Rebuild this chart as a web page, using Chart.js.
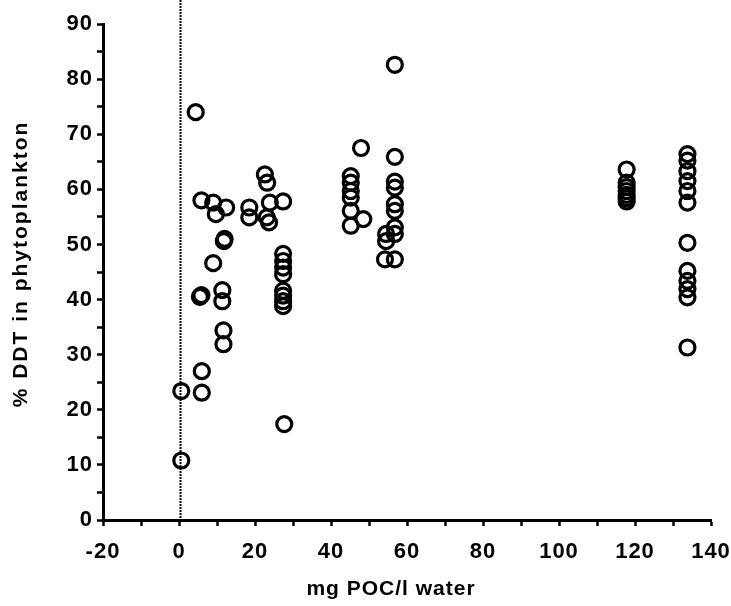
<!DOCTYPE html>
<html>
<head>
<meta charset="utf-8">
<script src="https://cdn.jsdelivr.net/npm/chart.js@4.4.1/dist/chart.umd.min.js"></script>
<style>
html,body{margin:0;padding:0;background:#fff;}
#wrap{width:731px;height:606px;position:relative;}
</style>
</head>
<body>
<div id="wrap"><canvas id="c" width="731" height="606"></canvas></div>
<script>
const xTitle = "mg POC/l water";
const yTitle = "% DDT in phytoplankton";
const xTickLabels = [-20, 0, 20, 40, 60, 80, 100, 120, 140];
const yTickLabels = [0, 10, 20, 30, 40, 50, 60, 70, 80, 90];

const pocValues = [
  0.6, 0.6, 4.4, 5.9, 9.0, 9.7, 12.4, 11.8, 12.0, 9.0, 5.5, 5.9, 11.4, 11.4, 11.7, 11.7, 6.0, 6.0,
  22.6, 23.2, 23.9, 27.4, 18.5, 18.5, 23.1, 23.7, 27.4, 27.4, 27.4, 27.4, 27.4, 27.4, 27.4, 27.4, 27.7,
  56.8, 47.9, 56.8, 45.2, 45.2, 45.2, 45.2, 45.2, 45.2, 48.5,
  56.8, 56.8, 56.8, 56.8, 56.8, 56.8, 54.5, 54.5, 54.2, 56.8,
  117.8, 117.8, 117.8, 117.8, 117.8, 117.8, 117.8,
  133.8, 133.8, 133.8, 133.8, 133.8, 133.8, 133.8, 133.8, 133.8, 133.8, 133.8, 133.8
];
const ddtValues = [
  10.8, 23.4, 74.0, 58.0, 57.6, 55.5, 56.7, 50.6, 51.0, 46.6, 40.5, 40.8, 41.7, 39.7, 34.4, 31.9, 27.0, 23.1,
  62.7, 61.2, 57.6, 57.8, 56.7, 54.9, 54.9, 54.0, 48.3, 47.0, 45.8, 44.6, 41.6, 40.7, 39.7, 38.8, 17.4,
  82.6, 67.5, 65.9, 62.4, 61.2, 59.7, 58.5, 56.1, 53.4, 54.6,
  61.4, 60.3, 57.3, 56.1, 53.1, 51.9, 51.9, 50.6, 47.3, 47.3,
  63.6, 61.2, 60.4, 59.7, 59.0, 58.4, 57.8,
  66.4, 65.2, 63.3, 61.5, 59.7, 57.6, 50.3, 45.2, 43.4, 41.9, 40.4, 31.3
];

const points = pocValues.map((x, i) => ({ x: x, y: ddtValues[i] }));

function patchTitle(scale, spacing, dx, dy) {
  if (!scale || scale._titlePatched) return;
  const orig = scale.drawTitle;
  scale.drawTitle = function () {
    const ctx = this.ctx;
    ctx.save();
    ctx.letterSpacing = spacing;
    ctx.translate(dx, dy);
    orig.apply(this, arguments);
    ctx.restore();
  };
  scale._titlePatched = true;
}

const textStyle = {
  id: 'textStyle',
  beforeDraw(chart) {
    chart.ctx.letterSpacing = '1px';
    patchTitle(chart.scales.x, '1px', -16, 0);
    patchTitle(chart.scales.y, '2px', 0, -8);
  }
};

const zeroLine = {
  id: 'zeroLine',
  beforeDatasetsDraw(chart) {
    const ctx = chart.ctx;
    const xs = chart.scales.x;
    const px = Math.round(xs.getPixelForValue(0)) + 1.5;
    ctx.save();
    ctx.strokeStyle = '#000';
    ctx.lineWidth = 2;
    ctx.setLineDash([2, 1]);
    ctx.beginPath();
    ctx.moveTo(px, 0);
    ctx.lineTo(px, chart.chartArea.bottom);
    ctx.stroke();
    ctx.restore();
  }
};

const family = "'Liberation Sans', Arial, Helvetica, sans-serif";
const tickFont = { family: family, size: 22, weight: 'bold' };
const titleFont = { family: family, size: 21, weight: 'bold' };

new Chart(document.getElementById('c'), {
  type: 'scatter',
  data: {
    datasets: [{
      data: points,
      pointRadius: 7.5,
      pointHoverRadius: 7.5,
      pointBorderWidth: 3.2,
      pointBorderColor: '#000',
      pointBackgroundColor: 'rgba(0,0,0,0)'
    }]
  },
  options: {
    responsive: false,
    animation: false,
    layout: { padding: { left: 9, top: 24, right: 0, bottom: 0 } },
    plugins: { legend: { display: false }, tooltip: { enabled: false } },
    scales: {
      x: {
        type: 'linear',
        min: xTickLabels[0],
        max: xTickLabels[xTickLabels.length - 1],
        border: { color: '#000', width: 3 },
        grid: { drawOnChartArea: false, drawTicks: true, tickLength: 6, color: '#000', tickWidth: 2.5 },
        ticks: {
          stepSize: 10,
          color: '#000',
          font: tickFont,
          padding: 13,
          maxRotation: 0,
          autoSkip: false,
          callback: (v) => (xTickLabels.includes(v) ? String(v) : '')
        },
        title: { display: true, text: xTitle, color: '#000', font: titleFont, padding: { top: 0, bottom: 4 } },
        afterFit: (s) => { s.height = 86; s.paddingRight = 20; }
      },
      y: {
        type: 'linear',
        min: yTickLabels[0],
        max: yTickLabels[yTickLabels.length - 1],
        border: { color: '#000', width: 3 },
        grid: { drawOnChartArea: false, drawTicks: true, tickLength: 6, color: '#000', tickWidth: 2.5 },
        ticks: {
          stepSize: 5,
          color: '#000',
          font: tickFont,
          padding: 4,
          autoSkip: false,
          callback: (v) => (yTickLabels.includes(v) ? String(v) : '')
        },
        title: { display: true, text: yTitle, color: '#000', font: titleFont, padding: { top: 0, bottom: 0 } },
        afterFit: (s) => { s.width = 94; }
      }
    }
  },
  plugins: [textStyle, zeroLine]
});
</script>
</body>
</html>
